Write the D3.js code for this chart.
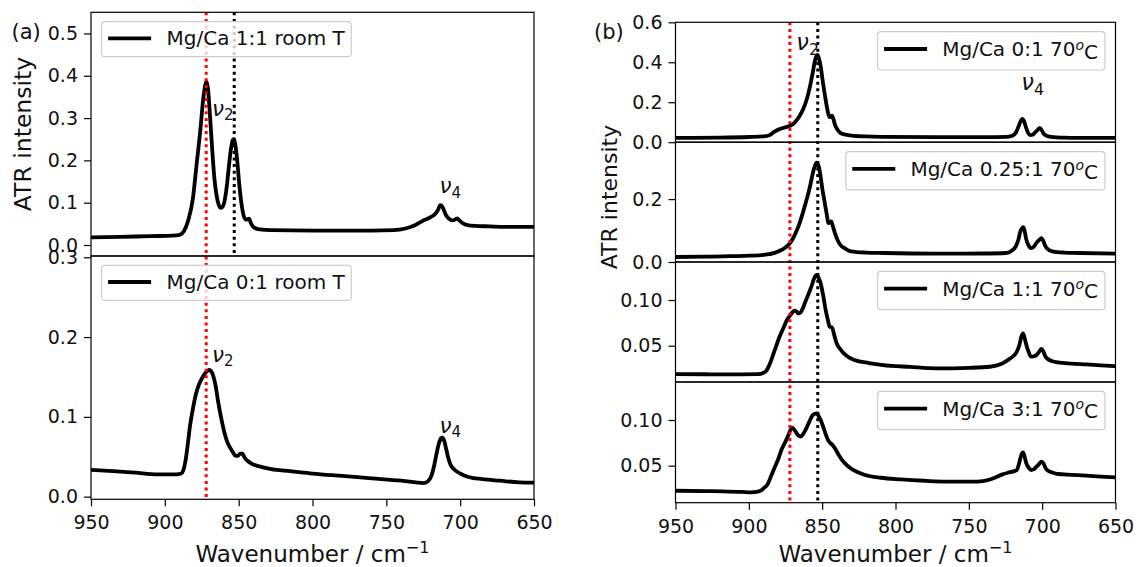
<!DOCTYPE html>
<html>
<head>
<meta charset="utf-8">
<script src="https://cdn.jsdelivr.net/npm/d3@7"></script>
<style>
  body { margin: 0; background: #fff; }
  svg { display: block; font-family: "DejaVu Sans", sans-serif; }
</style>
</head>
<body>
<svg id="fig" width="1139" height="567"></svg>
<script>
// ---- data: [wavenumber (cm^-1), ATR intensity] ----
const wnTicks = [950, 900, 850, 800, 750, 700, 650];
const nu2Red = 872;     // calcite-like v2 position
const nu2Black = 853;   // aragonite-like v2 position

const spec11Room = [[950,0.018],[930,0.019],[910,0.021],[895,0.022],[890,0.024],[887,0.033],[884,0.06],[881,0.11],[878.5,0.19],[876,0.27],[874,0.345],[872.5,0.38],[871.8,0.386],[870.8,0.37],[869.5,0.31],[868,0.23],[866.5,0.16],[865,0.118],[863.5,0.095],[862.5,0.088],[861,0.09],[859.5,0.105],[858,0.14],[856.5,0.19],[855,0.232],[854,0.248],[853.3,0.25],[852.3,0.238],[851,0.2],[849.5,0.14],[848,0.095],[846.5,0.068],[845,0.06],[843,0.062],[841.5,0.05],[839.5,0.041],[836,0.037],[828,0.035],[800,0.034],[760,0.034],[745,0.035],[737,0.039],[731,0.046],[726,0.056],[720,0.066],[717,0.073],[715,0.083],[713.5,0.094],[712.3,0.092],[711,0.082],[709.5,0.07],[707.5,0.062],[705.5,0.058],[703.5,0.06],[702,0.063],[700.5,0.058],[698.5,0.052],[695,0.047],[690,0.045],[680,0.044],[670,0.043],[650,0.043]];

const spec01Room = [[950,0.0337],[935,0.032],[920,0.03],[905,0.028],[892,0.028],[889,0.029],[887.5,0.033],[886,0.045],[884.5,0.065],[883,0.088],[881,0.11],[879,0.128],[877,0.14],[875,0.148],[873,0.154],[871.5,0.157],[870,0.159],[868.5,0.157],[867,0.15],[865.5,0.138],[864,0.12],[862,0.1],[860,0.083],[858,0.07],[856,0.062],[854,0.056],[852,0.051],[850.5,0.051],[849,0.054],[847.5,0.054],[846,0.049],[844,0.045],[841,0.041],[836,0.038],[828,0.0345],[815,0.032],[800,0.029],[780,0.026],[760,0.023],[740,0.02],[730,0.018],[725,0.017],[722,0.019],[719.5,0.026],[717.5,0.04],[716,0.054],[714.5,0.066],[713,0.073],[712,0.074],[711,0.071],[709.5,0.06],[708,0.048],[706.5,0.04],[704,0.034],[700,0.029],[695,0.025],[685,0.022],[673,0.02],[660,0.018],[650,0.0177]];

const spec01Hot = [[950,0.0216],[920,0.023],[900,0.026],[890,0.029],[886,0.035],[883,0.05],[879,0.066],[875,0.075],[872,0.082],[870,0.09],[868,0.105],[865.5,0.13],[863,0.165],[860.5,0.215],[858.3,0.279],[856.5,0.345],[855,0.405],[854,0.43],[853.2,0.437],[852.2,0.42],[851,0.379],[849.5,0.3],[848,0.229],[846.5,0.165],[845,0.125],[844,0.13],[843.3,0.133],[842.3,0.115],[841.3,0.088],[839.5,0.062],[837.7,0.047],[834,0.038],[830,0.033],[820,0.029],[808,0.027],[772,0.025],[740,0.025],[724,0.027],[720,0.033],[718,0.047],[716.3,0.075],[715,0.1],[713.5,0.116],[712.5,0.108],[711.5,0.085],[710.5,0.063],[709.5,0.045],[708.3,0.035],[706.5,0.037],[705,0.048],[703,0.062],[701.6,0.0715],[700.3,0.06],[699,0.043],[697,0.032],[694,0.027],[685,0.023],[675,0.022],[650,0.0216]];

const spec025Hot = [[950,0.0159],[930,0.017],[917.9,0.018],[900,0.02],[888.7,0.0233],[881.4,0.0307],[877,0.04],[873.5,0.052],[871.7,0.062],[870,0.074],[868.1,0.092],[865.5,0.122],[863.2,0.156],[860.5,0.2],[858.3,0.24],[856.5,0.28],[855,0.305],[853.8,0.316],[853,0.312],[852,0.298],[851,0.27],[849.8,0.23],[848.6,0.198],[847,0.155],[845.7,0.124],[844.6,0.126],[843.8,0.129],[842.8,0.115],[841.3,0.092],[839.5,0.07],[837.7,0.055],[834,0.042],[830.4,0.034],[820,0.03],[808,0.0286],[772,0.0265],[740,0.027],[724.6,0.0286],[721,0.035],[718,0.0497],[716,0.075],[714.9,0.097],[713.5,0.109],[712.8,0.111],[711.8,0.095],[710.8,0.071],[709.3,0.053],[707.6,0.044],[705.8,0.048],[704,0.06],[702,0.07],[700.5,0.076],[699.5,0.07],[698,0.052],[696,0.04],[693.1,0.034],[685,0.03],[674.8,0.0286],[650,0.0265]];

const spec11Hot = [[950,0.019],[930,0.0188],[917.9,0.0186],[893.6,0.019],[888.7,0.0215],[886,0.029],[883.9,0.038],[881.5,0.049],[879,0.06],[876.5,0.069],[874.6,0.0763],[871.7,0.0836],[870,0.087],[869,0.0885],[867.5,0.0875],[866.3,0.0854],[865,0.086],[863.2,0.0909],[861.5,0.098],[859.6,0.1055],[857.5,0.114],[855.9,0.1219],[854.3,0.127],[853.5,0.1274],[852.5,0.1245],[851,0.1182],[849.2,0.104],[847.4,0.0872],[845.8,0.076],[845,0.0708],[844,0.0705],[843,0.069],[841.5,0.06],[840.1,0.0526],[837.5,0.046],[835.2,0.0416],[831.5,0.037],[827.9,0.0343],[818,0.031],[808.5,0.0288],[790,0.0268],[772,0.0252],[750,0.0258],[735.6,0.027],[728,0.03],[723.4,0.0343],[719.5,0.039],[717.3,0.0434],[715.5,0.051],[714.2,0.0599],[713,0.0635],[711.9,0.058],[710.8,0.0507],[709.3,0.0435],[707.6,0.038],[705.5,0.0385],[703.9,0.0398],[702,0.0435],[700.5,0.0464],[699.3,0.044],[698,0.039],[696.7,0.0361],[693,0.033],[689.4,0.0318],[680,0.0305],[670,0.0296],[660,0.0286],[650,0.0277]];

const spec31Hot = [[950,0.0226],[930,0.0222],[917.9,0.0219],[905,0.0213],[898.5,0.0208],[894,0.0215],[891.2,0.0234],[889.5,0.026],[887.5,0.0288],[885,0.038],[882.7,0.047],[880,0.057],[877.8,0.0672],[875.3,0.0755],[873,0.0836],[871.8,0.0885],[870.5,0.0916],[869.3,0.09],[868.1,0.0872],[866.5,0.0835],[864.9,0.0818],[863,0.0845],[860.8,0.0909],[858.8,0.098],[856.7,0.1047],[855,0.1068],[853.7,0.1073],[852.5,0.1045],[851,0.1],[849.2,0.092],[847.4,0.0836],[845.8,0.0775],[844.2,0.0745],[842.8,0.0725],[841.3,0.069],[838.8,0.062],[836.4,0.0562],[833.4,0.051],[830.4,0.047],[825.5,0.0428],[820.7,0.0398],[810,0.0368],[796.3,0.035],[780,0.0335],[759.9,0.0325],[748,0.0325],[740.4,0.0332],[735,0.0352],[730.7,0.038],[727,0.0405],[723.4,0.0423],[719.5,0.0438],[717.3,0.0453],[716,0.051],[714.9,0.058],[713.8,0.0635],[713,0.0646],[712,0.06],[710.8,0.0526],[709.2,0.0478],[707.6,0.0453],[705.8,0.046],[703.9,0.0489],[702,0.052],[700.5,0.0544],[699,0.0525],[698,0.0485],[696.7,0.0453],[693,0.0425],[689.4,0.0409],[680,0.04],[670,0.0391],[660,0.038],[650,0.0372]];

const legendLabels = ["Mg/Ca 1:1 room T", "Mg/Ca 0:1 room T",
  "Mg/Ca 0:1 70^oC", "Mg/Ca 0.25:1 70^oC", "Mg/Ca 1:1 70^oC", "Mg/Ca 3:1 70^oC"];

const yTicksA1 = [0, 0.1, 0.2, 0.3, 0.4, 0.5];
const yTicksA2 = [0, 0.1, 0.2, 0.3];
const yTicksB1 = [0, 0.2, 0.4, 0.6];
const yTicksB2 = [0, 0.2];
const yTicksB3 = [0.05, 0.10];
const yTicksB4 = [0.05, 0.10];

const yRangeA1 = [-0.026, 0.55];
const yRangeA2 = [-0.0033, 0.3016];
const yRangeB1 = [0, 0.6];
const yRangeB2 = [0, 0.381];
const yRangeB3 = [0.0103, 0.1416];
const yRangeB4 = [0.0095, 0.1416];

// band annotations: [wavenumber, intensity, subscript]
const nuA1 = [[868, 0.305, "2"], [714, 0.122, "4"]];
const nuA2 = [[868, 0.169, "2"], [714, 0.080, "4"]];
const nuB1 = [[867.6, 0.4615, "2"], [714.2, 0.261, "4"]];

// ---- layout ----
const panels = [
  { tag: "(a)", tagX: 11.5, x0: 91, x1: 534, legendSide: "left", legendFont: 20, nuFont: 21.5,
    ylabel: { x: 31, y: 134, size: 23.5 },
    vlines: [{ wn: nu2Red, color: "#ff0000", top: 12.3, bottom: 499.3 },
             { wn: nu2Black, color: "#000000", top: 12.3, bottom: 256 }],
    subs: [
      { y0: 12.3, y1: 256, domain: yRangeA1, ticks: yTicksA1, fmt: ".1f", data: spec11Room, label: legendLabels[0], nu: nuA1 },
      { y0: 256, y1: 499.3, domain: yRangeA2, ticks: yTicksA2, fmt: ".1f", data: spec01Room, label: legendLabels[1], nu: nuA2, xaxis: true }
    ] },
  { tag: "(b)", tagX: 594, x0: 675.5, x1: 1115.5, legendSide: "right", legendFont: 20, nuFont: 22.5,
    ylabel: { x: 617, y: 197, size: 22 },
    vlines: [{ wn: nu2Red, color: "#ff0000", top: 22.3, bottom: 502.7 },
             { wn: nu2Black, color: "#000000", top: 22.3, bottom: 502.7 }],
    subs: [
      { y0: 22.3, y1: 142.2, domain: yRangeB1, ticks: yTicksB1, fmt: ".1f", data: spec01Hot, label: legendLabels[2], nu: nuB1 },
      { y0: 142.2, y1: 262, domain: yRangeB2, ticks: yTicksB2, fmt: ".1f", data: spec025Hot, label: legendLabels[3], nu: [] },
      { y0: 262, y1: 382, domain: yRangeB3, ticks: yTicksB3, fmt: ".2f", data: spec11Hot, label: legendLabels[4], nu: [] },
      { y0: 382, y1: 502.7, domain: yRangeB4, ticks: yTicksB4, fmt: ".2f", data: spec31Hot, label: legendLabels[5], nu: [], xaxis: true }
    ] }
];

const svg = d3.select("#fig");
svg.append("rect").attr("width", 1139).attr("height", 567).attr("fill", "#fff");
const defs = svg.append("defs");

const tickFont = 19;
const lineW = 3.8;
let clipCount = 0;

function addLabelText(sel, label) {
  // "^x" marks a single superscript character (e.g. degree-like o)
  const m = label.split("^");
  sel.append("tspan").text(m[0]);
  if (m.length > 1) {
    sel.append("tspan").attr("font-size", "70%").attr("font-style", "italic")
      .attr("dy", "-0.45em").text(m[1].charAt(0));
    sel.append("tspan").attr("dy", "0.45em").text(m[1].slice(1));
  }
}

panels.forEach(p => {
  const x = d3.scaleLinear().domain([950, 650]).range([p.x0, p.x1]);
  const layers = { spectra: svg.append("g"), vl: svg.append("g"), axes: svg.append("g"), leg: svg.append("g") };

  p.subs.forEach(s => {
    const y = d3.scaleLinear().domain(s.domain).range([s.y1, s.y0]);
    const id = "clip" + (clipCount++);
    defs.append("clipPath").attr("id", id).append("rect")
      .attr("x", p.x0).attr("y", s.y0).attr("width", p.x1 - p.x0).attr("height", s.y1 - s.y0);

    // spectrum
    layers.spectra.append("path").datum(s.data)
      .attr("clip-path", `url(#${id})`)
      .attr("d", d3.line().x(d => x(d[0])).y(d => y(d[1])).curve(d3.curveMonotoneX))
      .attr("fill", "none").attr("stroke", "#000").attr("stroke-width", lineW)
      .attr("stroke-linejoin", "round").attr("stroke-linecap", "butt");

    // y axis
    const ya = layers.axes.append("g").attr("transform", `translate(${p.x0},0)`)
      .call(d3.axisLeft(y).tickValues(s.ticks).tickFormat(d3.format(s.fmt)).tickSize(7).tickPadding(6));
    ya.select(".domain").remove();
    ya.selectAll(".tick line").attr("stroke", "#000").attr("stroke-width", 1.2);
    ya.selectAll(".tick text").attr("font-size", tickFont).attr("font-family", "DejaVu Sans").attr("fill", "#111");

    // x axis on the lowest subplot
    if (s.xaxis) {
      const xa = layers.axes.append("g").attr("transform", `translate(0,${s.y1})`)
        .call(d3.axisBottom(x).tickValues(wnTicks).tickFormat(d3.format("d")).tickSize(7).tickPadding(6));
      xa.select(".domain").remove();
      xa.selectAll(".tick line").attr("stroke", "#000").attr("stroke-width", 1.2);
      xa.selectAll(".tick text").attr("font-size", tickFont).attr("font-family", "DejaVu Sans").attr("fill", "#111")
        .attr("dy", null).attr("y", 30);
      layers.axes.append("text")
        .attr("x", (p.x0 + p.x1) / 2).attr("y", 562).attr("text-anchor", "middle")
        .attr("font-size", 23).attr("fill", "#111")
        .call(t => {
          t.append("tspan").text("Wavenumber / cm");
          t.append("tspan").attr("font-size", "70%").attr("dy", "-0.55em").text("\u22121");
        });
    }

    // frame
    layers.axes.append("rect").attr("x", p.x0).attr("y", s.y0)
      .attr("width", p.x1 - p.x0).attr("height", s.y1 - s.y0)
      .attr("fill", "none").attr("stroke", "#000").attr("stroke-width", 1.2);

    // band annotations
    s.nu.forEach(n => {
      const t = layers.axes.append("text").attr("x", x(n[0])).attr("y", y(n[1]))
        .attr("font-size", p.nuFont).attr("fill", "#111");
      t.append("tspan").attr("font-style", "italic").text("\u03bd");
      t.append("tspan").attr("font-size", "70%").attr("dy", "0.3em").text(n[2]);
    });

    // legend
    const lg = layers.leg.append("g");
    const boxH = p.legendSide === "left" ? 35 : 38.3;
    const boxTop = s.y0 + 9.4;
    const lineY = boxTop + (p.legendSide === "left" ? 16.6 : 17.3);
    const box = lg.append("rect");
    const txt = lg.append("text").attr("y", lineY + 7).attr("font-size", p.legendFont).attr("fill", "#111");
    addLabelText(txt, s.label);
    const w = txt.node().getComputedTextLength();
    let boxL, boxR;
    if (p.legendSide === "left") {
      boxL = p.x0 + 10.6;
      const textX = boxL + 65;
      txt.attr("x", textX);
      boxR = textX + w + 6.5;
    } else {
      boxR = p.x1 - 10.5;
      const textX = boxR - 7 - w;
      txt.attr("x", textX);
      boxL = textX - 64.6;
    }
    box.attr("x", boxL).attr("y", boxTop).attr("width", boxR - boxL).attr("height", boxH)
      .attr("rx", 3.5).attr("fill", "#fff").attr("fill-opacity", 0.8)
      .attr("stroke", "#cccccc").attr("stroke-width", 1.2);
    lg.append("line").attr("x1", boxL + 6.5).attr("x2", boxL + 49.5)
      .attr("y1", lineY).attr("y2", lineY).attr("stroke", "#000").attr("stroke-width", lineW);
  });

  // dotted reference lines for the v2 band positions
  p.vlines.forEach(v => {
    layers.vl.append("line").attr("x1", x(v.wn)).attr("x2", x(v.wn))
      .attr("y1", v.top).attr("y2", v.bottom)
      .attr("stroke", v.color).attr("stroke-width", 3).attr("stroke-dasharray", "3 3.6");
  });

  // panel tag and y label
  svg.append("text").attr("x", p.tagX).attr("y", 38.5).attr("font-size", 21).attr("fill", "#111").text(p.tag);
  svg.append("text")
    .attr("transform", `translate(${p.ylabel.x},${p.ylabel.y}) rotate(-90)`)
    .attr("text-anchor", "middle").attr("font-size", p.ylabel.size).attr("fill", "#111")
    .text("ATR intensity");
});
</script>
</body>
</html>
